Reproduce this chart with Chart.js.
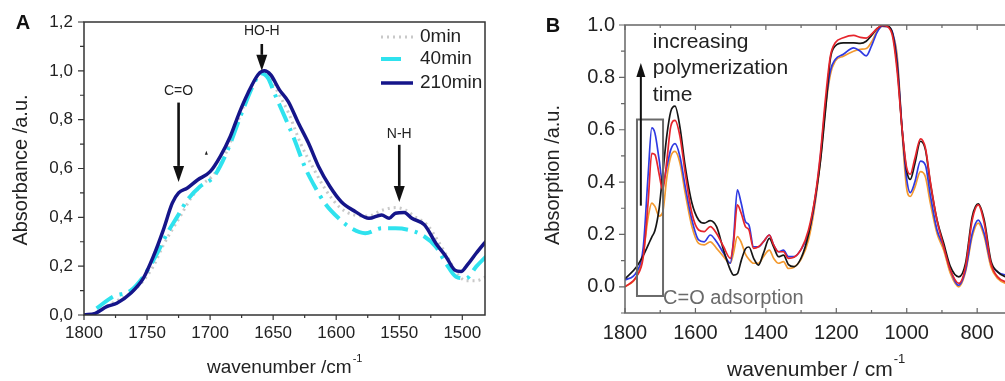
<!DOCTYPE html>
<html lang="en">
<head>
<meta charset="UTF-8">
<title>FTIR spectra</title>
<script src="https://cdn.jsdelivr.net/npm/chart.js"></script>
<style>
    html, body { margin: 0; padding: 0; width: 1005px; height: 381px; overflow: hidden; background: #fff; }
    #chartA { position: absolute; left: 0; top: 0; width: 500px; height: 381px; }
    #chartB { position: absolute; left: 500px; top: 0; width: 560px; height: 381px; }
</style>
</head>
<body>
<canvas id="chartA" width="500" height="381"></canvas>
<canvas id="chartB" width="560" height="381"></canvas>
<script>
    // ---- panel A data (wavenumber / absorbance) ----
    const wnA0 = [1790,1777,1763,1753,1745,1737,1730,1723,1715,1705,1697,1686,1676,1665,1659,1653,1646,1638,1628,1618,1608,1597,1586,1575,1563,1553,1545,1537,1528,1520,1512,1504,1497,1489,1480];
    const absA0 = [0.01,0.05,0.09,0.14,0.2,0.287,0.35,0.41,0.48,0.54,0.575,0.68,0.82,0.96,0.995,0.98,0.91,0.83,0.70,0.60,0.51,0.44,0.41,0.405,0.43,0.44,0.43,0.40,0.37,0.31,0.24,0.17,0.14,0.14,0.16];

    const wnA40 = [1790,1777,1763,1753,1742,1734,1726,1718,1708,1697,1686,1676,1665,1660,1654,1649,1642,1633,1625,1617,1609,1598,1588,1577,1564,1553,1542,1532,1521,1513,1505,1497,1489,1480];
    const absA40 = [0.027,0.075,0.10,0.157,0.253,0.335,0.403,0.471,0.526,0.567,0.676,0.813,0.95,0.99,0.97,0.908,0.826,0.717,0.608,0.526,0.458,0.396,0.355,0.335,0.355,0.355,0.348,0.328,0.28,0.212,0.157,0.15,0.198,0.246];

    const wnA210 = [1800,1791,1782,1774,1763,1753,1745,1737,1730,1725,1718,1710,1700,1692,1684,1677,1670,1662,1657,1652,1645,1638,1630,1622,1614,1605,1596,1585,1574,1564,1558,1553,1546,1540,1530,1521,1513,1506,1501,1496,1489,1480];
    const absA210 = [0.0,0.007,0.034,0.048,0.089,0.15,0.24,0.35,0.458,0.50,0.52,0.553,0.587,0.649,0.731,0.826,0.908,0.984,1.0,0.984,0.922,0.874,0.786,0.704,0.608,0.526,0.464,0.424,0.396,0.41,0.396,0.417,0.42,0.396,0.369,0.294,0.24,0.184,0.178,0.205,0.253,0.31];

    // ---- panel B data (shared wavenumber grid) ----
    const wnB = [1800,1767,1748,1734,1724,1715,1703,1693,1681,1670,1658,1644,1629,1610,1591,1575,1558,1540,1520,1501,1492,1481,1470,1458,1448,1435,1421,1407,1390,1378,1364,1350,1336,1320,1300,1279,1260,1245,1231,1217,1203,1180,1151,1132,1115,1100,1085,1070,1055,1040,1027,1013,1001,990,977,961,947,933,914,895,876,852,833,814,797,780,761,742,719,700];
    const absBlack = [0.03,0.077,0.12,0.16,0.19,0.215,0.30,0.43,0.58,0.67,0.69,0.61,0.46,0.32,0.255,0.243,0.253,0.23,0.14,0.065,0.045,0.05,0.10,0.145,0.152,0.11,0.083,0.128,0.185,0.153,0.115,0.121,0.085,0.077,0.11,0.2,0.34,0.48,0.67,0.87,0.92,0.932,0.932,0.93,0.938,0.96,0.985,0.998,0.996,0.965,0.84,0.6,0.45,0.41,0.47,0.556,0.524,0.396,0.255,0.166,0.077,0.038,0.09,0.268,0.317,0.255,0.10,0.057,0.038,0.035];
    const absRed = [0.0,0.04,0.115,0.33,0.51,0.505,0.43,0.37,0.485,0.613,0.636,0.575,0.434,0.281,0.217,0.211,0.23,0.204,0.153,0.109,0.166,0.313,0.281,0.23,0.217,0.147,0.153,0.172,0.198,0.16,0.134,0.134,0.109,0.113,0.143,0.217,0.345,0.51,0.715,0.88,0.932,0.951,0.96,0.953,0.95,0.965,0.985,0.998,0.994,0.955,0.82,0.6,0.46,0.43,0.49,0.565,0.53,0.402,0.255,0.153,0.064,0.013,0.077,0.255,0.313,0.243,0.09,0.038,0.019,0.015];
    const absBlue = [0.026,0.057,0.153,0.434,0.607,0.587,0.485,0.396,0.46,0.524,0.547,0.498,0.383,0.255,0.179,0.172,0.198,0.172,0.128,0.09,0.179,0.37,0.319,0.249,0.236,0.153,0.153,0.172,0.198,0.16,0.134,0.14,0.115,0.115,0.143,0.204,0.332,0.498,0.69,0.824,0.868,0.888,0.913,0.90,0.882,0.92,0.97,0.996,0.994,0.97,0.86,0.6,0.42,0.36,0.40,0.48,0.465,0.35,0.217,0.153,0.064,0.006,0.064,0.204,0.255,0.204,0.09,0.057,0.045,0.04];
    const absOrange = [0.0,0.04,0.128,0.268,0.32,0.307,0.27,0.285,0.42,0.498,0.517,0.473,0.358,0.23,0.166,0.16,0.172,0.147,0.115,0.09,0.128,0.192,0.17,0.125,0.105,0.09,0.09,0.115,0.14,0.109,0.09,0.096,0.07,0.075,0.105,0.179,0.319,0.485,0.677,0.81,0.862,0.881,0.90,0.907,0.91,0.935,0.975,0.995,0.995,0.965,0.88,0.587,0.383,0.345,0.38,0.44,0.42,0.32,0.204,0.14,0.051,0.0,0.057,0.192,0.243,0.192,0.077,0.032,0.013,0.01];

    // annotations (in data units)
    const arrowsA = [
        { label: 'C=O', x: 1725, yFrom: 0.87, yTo: 0.545, yLabel: 0.918 },
        { label: 'HO-H', x: 1659, yFrom: 1.11, yTo: 1.0, yLabel: 1.162 },
        { label: 'N-H', x: 1550, yFrom: 0.697, yTo: 0.463, yLabel: 0.742 }
    ];
    const noteB = ['increasing', 'polymerization', 'time'];
    const noteBy = [0.935, 0.835, 0.732];

    const FONT = '"Liberation Sans", Arial, sans-serif';

    function zip(xs, ys) {
        return xs.map((x, i) => ({ x: x, y: ys[i] }));
    }

    function text(ctx, str, x, y, size, color, align, weight) {
        ctx.font = (weight || 'normal') + ' ' + size + 'px ' + FONT;
        ctx.fillStyle = color;
        ctx.textAlign = align || 'left';
        ctx.textBaseline = 'middle';
        ctx.fillText(str, x, y);
    }

    function supTitle(ctx, main, sup, x, y, size, color) {
        text(ctx, main, x, y, size, color, 'left');
        const w = ctx.measureText(main).width;
        text(ctx, sup, x + w + 1, y - size * 0.5, Math.round(size * 0.6), color, 'left');
    }

    function vTitle(ctx, str, x, y, size, color) {
        ctx.save();
        ctx.translate(x, y);
        ctx.rotate(-Math.PI / 2);
        text(ctx, str, 0, 0, size, color, 'center');
        ctx.restore();
    }

    // ticks: side = left / bottom / top, dir 1 = outside, -1 = inside
    function drawTicks(ctx, chart, axis, step, every, side, dir, majorLen, minorLen, color) {
        const s = chart.scales[axis], a = chart.chartArea;
        const i0 = Math.ceil(s.min / step - 1e-9), i1 = Math.floor(s.max / step + 1e-9);
        ctx.strokeStyle = color;
        ctx.lineWidth = 1.2;
        ctx.setLineDash([]);
        ctx.beginPath();
        for (let i = i0; i <= i1; i++) {
            const p = s.getPixelForValue(i * step);
            const len = (i % every === 0 ? majorLen : minorLen) * dir;
            if (side === 'left') { ctx.moveTo(a.left, p); ctx.lineTo(a.left - len, p); }
            if (side === 'bottom') { ctx.moveTo(p, a.bottom); ctx.lineTo(p, a.bottom + len); }
            if (side === 'top') { ctx.moveTo(p, a.top); ctx.lineTo(p, a.top - len); }
        }
        ctx.stroke();
    }

    function arrow(ctx, x, y0, y1, headW, headL, lw) {
        const d = y1 > y0 ? 1 : -1;
        ctx.strokeStyle = '#111';
        ctx.fillStyle = '#111';
        ctx.lineWidth = lw;
        ctx.setLineDash([]);
        ctx.beginPath();
        ctx.moveTo(x, y0);
        ctx.lineTo(x, y1 - d * headL);
        ctx.stroke();
        ctx.beginPath();
        ctx.moveTo(x - headW / 2, y1 - d * headL);
        ctx.lineTo(x + headW / 2, y1 - d * headL);
        ctx.lineTo(x, y1);
        ctx.closePath();
        ctx.fill();
    }

    const lineDefaults = { pointRadius: 0, fill: false, tension: 0.4, cubicInterpolationMode: 'monotone' };

    // ---- panel A ----
    const panelA = {
        id: 'panelA',
        afterDatasetsDraw(chart) {
            const ctx = chart.ctx, a = chart.chartArea;
            const sx = chart.scales.x, sy = chart.scales.y;
            ctx.save();
            ctx.strokeStyle = '#333';
            ctx.lineWidth = 1.5;
            ctx.setLineDash([]);
            ctx.strokeRect(a.left, a.top, a.right - a.left, a.bottom - a.top);
            drawTicks(ctx, chart, 'y', 0.1, 2, 'left', 1, 6, 4, '#333');
            drawTicks(ctx, chart, 'x', 25, 2, 'bottom', 1, 5, 3, '#333');

            arrowsA.forEach(ar => {
                const x = sx.getPixelForValue(ar.x);
                arrow(ctx, x, sy.getPixelForValue(ar.yFrom), sy.getPixelForValue(ar.yTo), 11, 16, 2.6);
                text(ctx, ar.label, x, sy.getPixelForValue(ar.yLabel), 14, '#222', 'center');
            });
            // small mark near 1703
            const mx = sx.getPixelForValue(1703), my = sy.getPixelForValue(0.664);
            ctx.fillStyle = '#222';
            ctx.beginPath();
            ctx.moveTo(mx - 1.5, my + 2); ctx.lineTo(mx + 1.5, my + 2); ctx.lineTo(mx, my - 2);
            ctx.closePath(); ctx.fill();

            // legend
            const rows = [37, 59, 83];
            ['0min', '40min', '210min'].forEach((lbl, i) => {
                const ds = chart.data.datasets.find(d => d.label === lbl);
                ctx.strokeStyle = ds.borderColor;
                ctx.lineWidth = ds.borderWidth;
                ctx.setLineDash(ds.borderDash || []);
                ctx.beginPath();
                ctx.moveTo(381, rows[i]);
                ctx.lineTo(i === 1 ? 403 : 413, rows[i]);
                ctx.stroke();
                ctx.setLineDash([]);
                text(ctx, lbl, 420, rows[i], 19, '#222', 'left');
            });

            text(ctx, 'A', 23, 23, 20, '#111', 'center', 'bold');
            supTitle(ctx, 'wavenumber /cm', '-1', 207, 368, 19, '#222');
            vTitle(ctx, 'Absorbance /a.u.', 21, 170, 20, '#222');
            ctx.restore();
        }
    };

    new Chart(document.getElementById('chartA').getContext('2d'), {
        type: 'line',
        data: {
            datasets: [
                Object.assign({ label: '0min', data: zip(wnA0, absA0), borderColor: '#c9c9c9', borderWidth: 3, borderDash: [2, 4], order: 3 }, lineDefaults),
                Object.assign({ label: '40min', data: zip(wnA40, absA40), borderColor: '#2fe2ee', borderWidth: 4, borderDash: [20, 7, 3, 7], order: 2 }, lineDefaults),
                Object.assign({ label: '210min', data: zip(wnA210, absA210), borderColor: '#15158a', borderWidth: 3.5, order: 1 }, lineDefaults)
            ]
        },
        options: {
            responsive: false,
            animation: false,
            events: [],
            layout: { padding: { top: 22, right: 15, left: 0, bottom: 0 } },
            plugins: { legend: { display: false }, tooltip: { enabled: false } },
            scales: {
                x: {
                    type: 'linear', min: 1482, max: 1800, reverse: true,
                    grid: { display: false, drawTicks: false }, border: { display: false },
                    ticks: {
                        stepSize: 25, autoSkip: false, includeBounds: false, maxRotation: 0, padding: 8, color: '#222',
                        font: { size: 17, family: FONT },
                        callback: v => (v % 50 === 0 ? v : '')
                    },
                    afterFit: s => { s.height = 66; }
                },
                y: {
                    min: 0, max: 1.2,
                    grid: { display: false, drawTicks: false }, border: { display: false },
                    ticks: {
                        stepSize: 0.1, autoSkip: false, padding: 11, color: '#222',
                        font: { size: 17, family: FONT },
                        callback: v => {
                            const k = Math.round(v * 10);
                            return k % 2 === 0 ? (k / 10).toFixed(1).replace('.', ',') : '';
                        }
                    },
                    afterFit: s => { s.width = 84; }
                }
            }
        },
        plugins: [panelA]
    });

    // ---- panel B ----
    const panelB = {
        id: 'panelB',
        afterDatasetsDraw(chart) {
            const ctx = chart.ctx, a = chart.chartArea;
            const sx = chart.scales.x, sy = chart.scales.y;
            ctx.save();
            ctx.strokeStyle = '#666';
            ctx.lineWidth = 1.5;
            ctx.setLineDash([]);
            ctx.strokeRect(a.left, a.top, a.right - a.left, a.bottom - a.top);
            drawTicks(ctx, chart, 'y', 0.1, 2, 'left', 1, 6, 4, '#666');
            drawTicks(ctx, chart, 'x', 100, 2, 'bottom', -1, 5, 3, '#666');
            drawTicks(ctx, chart, 'x', 100, 2, 'top', -1, 5, 3, '#666');

            // C=O box
            const bx0 = sx.getPixelForValue(1766), bx1 = sx.getPixelForValue(1692);
            const by0 = sy.getPixelForValue(0.639), by1 = sy.getPixelForValue(-0.035);
            ctx.strokeStyle = '#6a6a6a';
            ctx.lineWidth = 2;
            ctx.strokeRect(bx0, by0, bx1 - bx0, by1 - by0);
            text(ctx, 'C=O adsorption', bx1, sy.getPixelForValue(-0.043), 20, '#6a6a6a', 'left');

            // time arrow
            arrow(ctx, sx.getPixelForValue(1755), sy.getPixelForValue(0.31), sy.getPixelForValue(0.855), 9, 14, 2);
            noteB.forEach((s, i) => {
                text(ctx, s, sx.getPixelForValue(1721), sy.getPixelForValue(noteBy[i]), 21, '#222', 'left');
            });

            text(ctx, 'B', 53, 26, 20, '#111', 'center', 'bold');
            supTitle(ctx, 'wavenumber / cm', '-1', 227, 370, 21, '#222');
            vTitle(ctx, 'Absorption /a.u.', 53, 175, 20, '#222');
            ctx.restore();
        }
    };

    new Chart(document.getElementById('chartB').getContext('2d'), {
        type: 'line',
        data: {
            datasets: [
                Object.assign({ label: 'orange', data: zip(wnB, absOrange), borderColor: '#f39a30', borderWidth: 1.7, order: 4 }, lineDefaults),
                Object.assign({ label: 'blue', data: zip(wnB, absBlue), borderColor: '#2f3ae2', borderWidth: 1.7, order: 3 }, lineDefaults),
                Object.assign({ label: 'black', data: zip(wnB, absBlack), borderColor: '#161616', borderWidth: 1.7, order: 2 }, lineDefaults),
                Object.assign({ label: 'red', data: zip(wnB, absRed), borderColor: '#e6252c', borderWidth: 1.7, order: 1 }, lineDefaults)
            ]
        },
        options: {
            responsive: false,
            animation: false,
            events: [],
            layout: { padding: { top: 25, right: 30, left: 0, bottom: 0 } },
            plugins: { legend: { display: false }, tooltip: { enabled: false } },
            scales: {
                x: {
                    type: 'linear', min: 650, max: 1800, reverse: true,
                    grid: { display: false, drawTicks: false }, border: { display: false },
                    ticks: {
                        stepSize: 100, autoSkip: false, includeBounds: false, maxRotation: 0, padding: 8, color: '#222',
                        font: { size: 20, family: FONT },
                        callback: v => (v % 200 === 0 ? v : '')
                    },
                    afterFit: s => { s.height = 68; }
                },
                y: {
                    min: -0.1, max: 1.0,
                    grid: { display: false, drawTicks: false }, border: { display: false },
                    ticks: {
                        stepSize: 0.1, autoSkip: false, padding: 10, color: '#222',
                        font: { size: 20, family: FONT },
                        callback: v => {
                            const k = Math.round(v * 10);
                            return (k >= 0 && k % 2 === 0) ? (k / 10).toFixed(1) : '';
                        }
                    },
                    afterFit: s => { s.width = 125; }
                }
            }
        },
        plugins: [panelB]
    });
</script>
</body>
</html>
